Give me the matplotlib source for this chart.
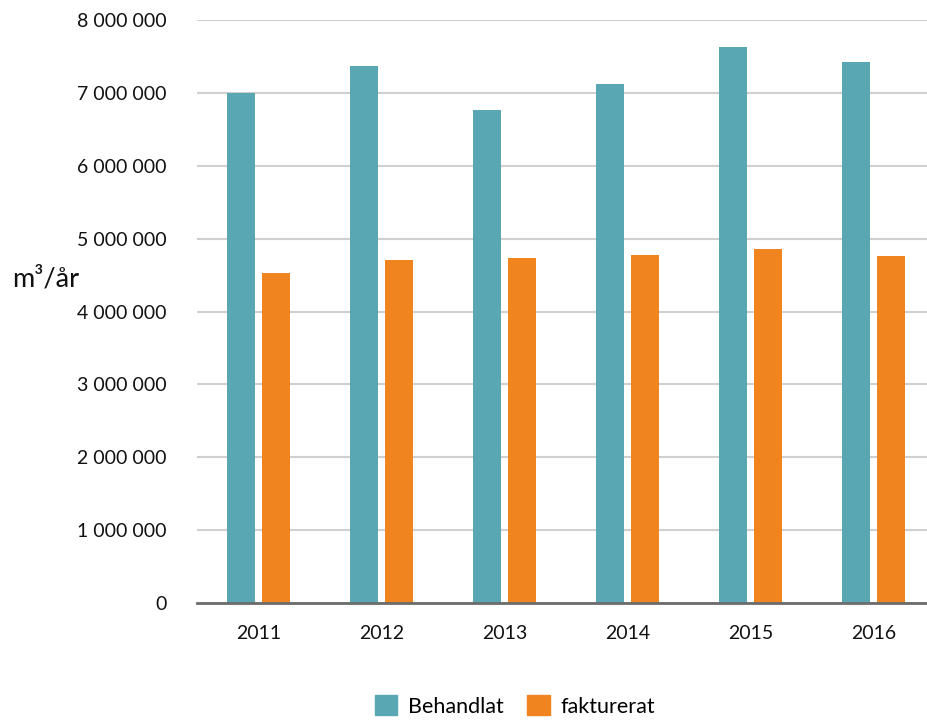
import numpy as np
import matplotlib
matplotlib.use("Agg")
import matplotlib.pyplot as plt
from matplotlib.patches import Patch

years = ["2011", "2012", "2013", "2014", "2015", "2016"]
behandlat = [7000000, 7370000, 6765000, 7120000, 7630000, 7420000]
fakturerat = [4530000, 4710000, 4730000, 4780000, 4860000, 4760000]

teal = "#5aa7b4"
orange = "#f0841e"

plt.rcParams["font.family"] = ["Lato", "DejaVu Sans"]

fig = plt.figure(figsize=(9.28, 7.2), dpi=100)
ax = fig.add_axes([0.2123, 0.1625, 0.7877, 0.8097])

x = np.arange(len(years))
w = 0.224
off = 0.141
ax.bar(x - off, behandlat, w, color=teal, zorder=3)
ax.bar(x + off, fakturerat, w, color=orange, zorder=3)

ax.set_xlim(-0.5, 5.443)
ax.set_ylim(0, 8000000)
ax.set_yticks(np.arange(0, 8000001, 1000000))
ax.set_yticklabels([f"{v:,.0f}".replace(",", " ") for v in ax.get_yticks()])
ax.set_xticks(x)
ax.set_xticklabels(years)

ax.grid(axis="y", color="#d0d0d0", linewidth=1.5, zorder=0)
for s in ["top", "right", "left"]:
    ax.spines[s].set_visible(False)
ax.spines["bottom"].set_color("#6b6b6b")
ax.spines["bottom"].set_linewidth(2)
ax.spines["bottom"].set_zorder(4)
ax.tick_params(axis="both", length=0, labelsize=14, colors="#111111")
ax.tick_params(axis="y", pad=22)
ax.tick_params(axis="x", pad=16)

fig.text(0.013, 0.612, "m³/år", fontsize=19.5, ha="left", va="center", color="#111111")

handles = [Patch(color=teal, label="Behandlat"), Patch(color=orange, label="fakturerat")]
fig.legend(handles=handles, loc="center", bbox_to_anchor=(0.555, 0.0195), ncol=2,
           frameon=False, fontsize=15.5, handlelength=1.05, handleheight=1.05,
           handletextpad=0.5, columnspacing=1.1)

fig.savefig("out.png", dpi=100)
